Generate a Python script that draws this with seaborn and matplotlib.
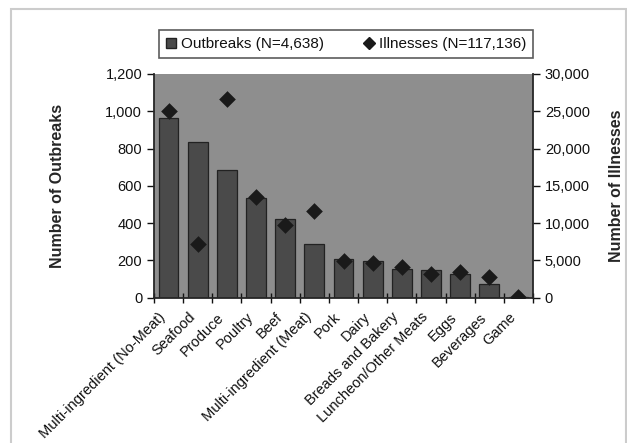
import numpy as np
import pandas as pd
import seaborn as sns
import matplotlib.pyplot as plt
from matplotlib.patches import Rectangle
from matplotlib.lines import Line2D
from matplotlib.ticker import FuncFormatter, FixedLocator
from matplotlib.transforms import ScaledTranslation

categories = ['Multi-ingredient (No-Meat)', 'Seafood', 'Produce', 'Poultry', 'Beef',
              'Multi-ingredient (Meat)', 'Pork', 'Dairy', 'Breads and Bakery',
              'Luncheon/Other Meats', 'Eggs', 'Beverages', 'Game']
outbreaks = [966, 834, 685, 536, 424, 290, 206, 195, 154, 147, 127, 73, 5]
illnesses = [25000, 7250, 26650, 13450, 9700, 11600, 4880, 4600, 4100, 3150, 3400, 2800, 100]

df = pd.DataFrame({'cat': categories, 'outbreaks': outbreaks, 'illnesses': illnesses})

sns.set_style('ticks')
plt.rcParams['font.family'] = ['Liberation Sans', 'DejaVu Sans']
plt.rcParams['font.size'] = 10.5
plt.rcParams['text.color'] = '#111111'
plt.rcParams['xtick.color'] = '#111111'
plt.rcParams['ytick.color'] = '#111111'

fig = plt.figure(figsize=(6.27, 4.43), dpi=100)
ax = fig.add_axes([0.2456, 0.328, 0.6045, 0.505])
ax.set_facecolor('#8e8e8e')

sns.barplot(data=df, x='cat', y='outbreaks', ax=ax, color='#4a4a4a', saturation=1,
            width=0.68, edgecolor='#222222', linewidth=0.9)
ax.set_ylim(0, 1200)
ax.set_xlim(-0.5, 12.5)
ax.set_yticks(range(0, 1201, 200))
ax.yaxis.set_major_formatter(FuncFormatter(lambda v, p: f'{int(v):,}'))
ax.set_ylabel('Number of Outbreaks', fontweight='bold', fontsize=11.5)
ax.yaxis.set_label_coords(-0.235, 0.5)
ax.set_xlabel('')
ax.set_xticks(range(len(categories)))
ax.set_xticklabels(categories, rotation=45, ha='right', rotation_mode='anchor', fontsize=10.5)
ax.tick_params(axis='x', which='major', length=0, pad=6)
shift = ScaledTranslation(-0.10, -0.04, fig.dpi_scale_trans)
for lab in ax.get_xticklabels():
    lab.set_transform(lab.get_transform() + shift)
ax.xaxis.set_minor_locator(FixedLocator(np.arange(-0.5, 13, 1)))
ax.tick_params(axis='x', which='minor', length=7, direction='inout', width=1)
ax.tick_params(axis='y', length=5, width=1, direction='out', labelsize=10.5)
for s in ['top', 'right']:
    ax.spines[s].set_visible(False)
ax.spines['left'].set_linewidth(1.3)
ax.spines['bottom'].set_linewidth(1.3)

ax2 = ax.twinx()
sns.stripplot(data=df, x='cat', y='illnesses', ax=ax2, jitter=False, marker='D',
              size=8.5, color='#1a1a1a', linewidth=0)
ax2.set_xlim(-0.5, 12.5)
ax2.set_ylim(0, 30000)
ax2.set_yticks(range(0, 30001, 5000))
ax2.yaxis.set_major_formatter(FuncFormatter(lambda v, p: f'{int(v):,}'))
ax2.set_ylabel('Number of Illnesses', fontweight='bold', fontsize=11.5)
ax2.yaxis.set_label_coords(1.20, 0.5)
ax2.tick_params(axis='y', length=5, width=1, direction='out', labelsize=10.5)
for s in ['top', 'left', 'bottom']:
    ax2.spines[s].set_visible(False)
ax2.spines['right'].set_linewidth(1.3)
ax2.set_xlabel('')

handles = [Rectangle((0, 0), 1, 1, facecolor='#4a4a4a', edgecolor='#222222'),
           Line2D([], [], marker='D', color='#1a1a1a', linestyle='none', markersize=6.5)]
leg = fig.legend(handles, ['Outbreaks (N=4,638)', 'Illnesses (N=117,136)'],
                 loc='center', bbox_to_anchor=(0.552, 0.9), ncol=2, frameon=True,
                 fancybox=False, edgecolor='#333333', fontsize=11, handlelength=0.7,
                 handletextpad=0.3, columnspacing=2.6, borderpad=0.45)
leg.get_frame().set_linewidth(1.2)

fig.patches.append(Rectangle((0.018, -0.05), 0.98, 1.03, transform=fig.transFigure,
                             fill=False, edgecolor='#cccccc', linewidth=1.5))

fig.savefig('out.png', dpi=100)
